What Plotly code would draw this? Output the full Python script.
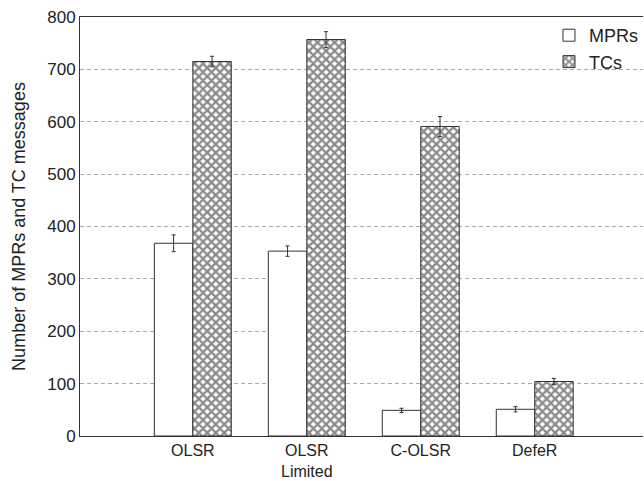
import plotly.graph_objects as go

categories = ["OLSR", "OLSR<br>Limited", "C-OLSR", "DefeR"]
mpr_values = [368, 353, 49, 51]
mpr_errors = [16, 10, 4, 5]
tc_values = [715, 757, 591, 104]
tc_errors = [10, 15, 19, 6]
y_ticks = [0, 100, 200, 300, 400, 500, 600, 700, 800]

x_pos = list(range(len(categories)))

fig = go.Figure()
fig.add_trace(go.Bar(
    x=x_pos, y=mpr_values, name="MPRs",
    marker=dict(color="white", line=dict(color="#333333", width=1)),
    error_y=dict(type="data", array=mpr_errors, color="#333333", thickness=1, width=2),
))
fig.add_trace(go.Bar(
    x=x_pos, y=tc_values, name="TCs",
    marker=dict(color="white", line=dict(color="#333333", width=1),
                pattern=dict(shape="x", fgcolor="#151515", bgcolor="white", size=6, solidity=0.62)),
    error_y=dict(type="data", array=tc_errors, color="#333333", thickness=1, width=2),
))

font = dict(family="Liberation Sans, Arial, sans-serif", size=17, color="#222222")
fig.update_layout(
    width=644, height=481,
    margin=dict(l=80, r=1, t=17, b=45, autoexpand=False),
    plot_bgcolor="white", paper_bgcolor="white",
    barmode="group", bargap=0.325, bargroupgap=0,
    font=font,
    showlegend=True,
    legend=dict(x=1.0, y=1.0, xanchor="right", yanchor="top",
                bgcolor="rgba(0,0,0,0)", font=dict(size=18), itemwidth=30,
                traceorder="normal", tracegroupgap=0),
    xaxis=dict(range=[-0.99, 3.95], tickvals=x_pos, ticktext=categories,
               showgrid=False, showline=True, linecolor="#333333", mirror=True,
               ticks="", zeroline=False, tickfont=dict(size=16), automargin=False),
    yaxis=dict(range=[0, 800], tickvals=y_ticks, showgrid=True, gridcolor="#a8a8a8",
               griddash="4px,3px", gridwidth=1, showline=True, linecolor="#333333", mirror=False,
               ticks="", zeroline=False, tickfont=dict(size=17), automargin=False,
               ticklabeloverflow="allow",
               title=dict(text="Number of MPRs and TC messages", standoff=16, font=dict(size=18))),
)
fig.write_html("out.html", config={"displayModeBar": False},
               post_script="document.body.style.margin='0px';document.body.style.overflow='hidden';")
